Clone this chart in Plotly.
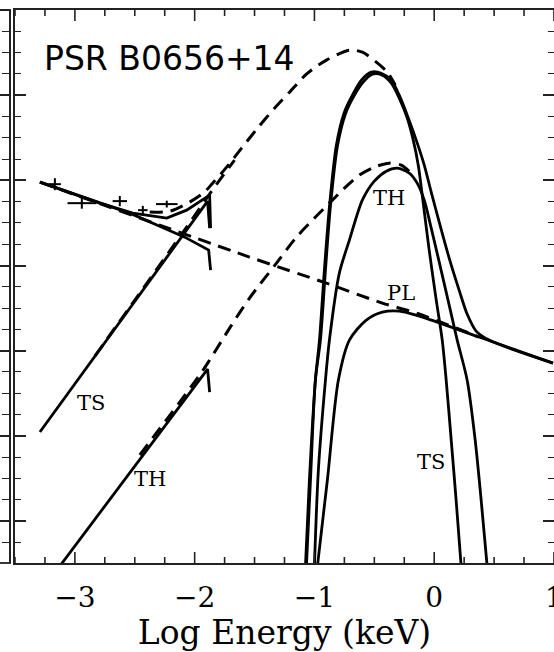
import numpy as np
import plotly.graph_objects as go

# ---- observed optical/UV fluxes (log E [keV], log F_nu) with filter widths / errors
obs_logE = [-3.167, -2.942, -2.625, -2.433, -2.233]
obs_logF = [3.955, 3.732, 3.756, 3.650, 3.721]
obs_dE = [0.05, 0.12, 0.06, 0.04, 0.09]
obs_dF = [0.07, 0.065, 0.06, 0.05, 0.04]

# ---- absorbed model, optical/UV branch (ends at the Lyman edge)
tot_lo_E = [-3.292, -2.792, -2.517, -2.233, -2.067, -1.875, -1.867]
tot_lo_F = [3.979, 3.732, 3.615, 3.556, 3.650, 3.826, 3.439]
pl_lo_E = [-3.292, -2.875, -2.542, -2.292, -2.083, -1.883, -1.867]
pl_lo_F = [3.979, 3.779, 3.615, 3.462, 3.333, 3.181, 2.946]
ts_lo_E = [-3.292, -2.108, -1.892, -1.875]
ts_lo_F = [1.045, 3.333, 3.756, 3.439]
th_lo_E = [-3.125, -1.958, -1.892, -1.875]
th_lo_F = [-0.528, 1.655, 1.784, 1.514]

# ---- absorbed model, X-ray branch
tot_hi_E = [-1.075, -1.042, -0.992, -0.958, -0.917, -0.875, -0.817, -0.750, -0.683, -0.608,
            -0.525, -0.442, -0.358, -0.292, -0.225, -0.150, -0.083, -0.025, 0.042, 0.125,
            0.208, 0.275, 0.350, 0.458, 0.992]
tot_hi_F = [-0.528, 0.481, 1.655, 2.124, 2.946, 3.685, 4.413, 4.800, 5.000, 5.176,
            5.270, 5.258, 5.176, 5.000, 4.765, 4.472, 4.178, 3.862, 3.509, 3.087,
            2.711, 2.430, 2.230, 2.124, 1.854]
ts_hi_E = [-1.067, -1.033, -0.992, -0.950, -0.908, -0.867, -0.808, -0.742, -0.675, -0.600,
           -0.517, -0.433, -0.358, -0.292, -0.225, -0.175, -0.133, -0.100, -0.042, 0.017,
           0.067, 0.100, 0.142, 0.183, 0.225]
ts_hi_F = [-0.528, 0.481, 1.655, 2.124, 2.946, 3.685, 4.401, 4.777, 4.977, 5.141,
           5.246, 5.235, 5.141, 4.965, 4.730, 4.472, 4.178, 3.826, 3.181, 2.594,
           2.124, 1.655, 0.951, 0.246, -0.528]
th_hi_E = [-1.000, -0.967, -0.908, -0.875, -0.792, -0.708, -0.600, -0.500, -0.400, -0.308,
           -0.208, -0.142, -0.083, -0.025, 0.042, 0.125, 0.192, 0.275, 0.342, 0.392, 0.442]
th_hi_F = [-0.528, 0.599, 1.655, 2.124, 2.911, 3.298, 3.768, 3.991, 4.108, 4.143,
           4.085, 3.967, 3.768, 3.439, 3.040, 2.535, 2.124, 1.655, 0.951, 0.246, -0.528]
pl_hi_E = [-0.975, -0.892, -0.800, -0.708, -0.567, -0.433, -0.292, -0.125, 0.375, 0.992]
pl_hi_F = [-0.528, 0.481, 1.655, 2.124, 2.359, 2.453, 2.465, 2.406, 2.160, 1.854]

# ---- unabsorbed model components
tot_un_E = [-2.375, -2.208, -2.042, -1.917, -1.850, -1.733, -1.608, -1.475, -1.333, -1.208,
            -1.067, -0.900, -0.708, -0.600, -0.483, -0.392, -0.325]
tot_un_F = [3.627, 3.638, 3.744, 3.862, 3.967, 4.155, 4.378, 4.613, 4.847, 5.035,
            5.246, 5.411, 5.528, 5.505, 5.387, 5.270, 5.117]
ts_un_E = [-2.833, -2.458, -2.067, -1.917, -1.792, -1.667]
ts_un_F = [1.937, 2.676, 3.451, 3.756, 4.002, 4.237]
th_un_E = [-2.458, -1.958, -1.875, -1.708, -1.542, -1.317, -1.150, -1.000, -0.875, -0.750,
           -0.625, -0.500, -0.375, -0.275, -0.192]
th_un_F = [0.775, 1.714, 1.890, 2.265, 2.617, 3.028, 3.333, 3.556, 3.732, 3.908,
           4.061, 4.155, 4.202, 4.178, 4.085]
pl_un_E = [-3.292, -1.542, -0.900, -0.433, -0.150, 0.375]
pl_un_F = [3.979, 3.099, 2.793, 2.559, 2.441, 2.160]

SOLID_W = 2.8
DASH_W = 3.0
DASH = "13px,8px"
INK = "black"

fig = go.Figure()


def solid(x, y, smooth=True):
    fig.add_trace(go.Scatter(
        x=x, y=y, mode="lines", showlegend=False, hoverinfo="skip",
        line=dict(color=INK, width=SOLID_W,
                  shape="spline" if smooth else "linear",
                  **({"smoothing": 0.8} if smooth else {}))))


def dashed(x, y):
    fig.add_trace(go.Scatter(
        x=x, y=y, mode="lines", showlegend=False, hoverinfo="skip",
        line=dict(color=INK, width=DASH_W, dash=DASH, shape="spline", smoothing=0.8)))


# unabsorbed components (dashed)
dashed(pl_un_E, pl_un_F)
dashed(ts_un_E, ts_un_F)
dashed(th_un_E, th_un_F)
dashed(tot_un_E, tot_un_F)

# absorbed model, optical/UV
solid(tot_lo_E, tot_lo_F, smooth=False)
solid(pl_lo_E, pl_lo_F, smooth=False)
solid(ts_lo_E, ts_lo_F, smooth=False)
solid(th_lo_E, th_lo_F, smooth=False)

# absorbed model, X-ray
solid(pl_hi_E, pl_hi_F)
solid(th_hi_E, th_hi_F)
solid(ts_hi_E, ts_hi_F)
solid(tot_hi_E, tot_hi_F)

# observed points
fig.add_trace(go.Scatter(
    x=obs_logE, y=obs_logF, mode="markers", showlegend=False, hoverinfo="skip",
    marker=dict(size=1, color=INK),
    error_x=dict(type="data", array=obs_dE, width=0, thickness=2, color=INK),
    error_y=dict(type="data", array=obs_dF, width=0, thickness=2, color=INK)))

# empty carrier for the neighbouring panel's zero-width subplot
fig.add_trace(go.Scatter(x=[None], y=[None], xaxis="x2", yaxis="y2",
                         showlegend=False, hoverinfo="skip"))

label_font = dict(family="DejaVu Serif", size=21, color=INK)
for txt, lx, ly in [("TH", -0.375, 3.791), ("PL", -0.275, 2.676), ("TS", -2.867, 1.385),
                    ("TH", -2.375, 0.493), ("TS", -0.025, 0.692)]:
    fig.add_annotation(x=lx, y=ly, text=txt, showarrow=False, font=label_font,
                       xanchor="center", yanchor="middle")

fig.add_annotation(x=-3.275, y=5.434, text="PSR B0656+14", showarrow=False,
                   font=dict(family="DejaVu Sans", size=33, color=INK),
                   xanchor="left", yanchor="middle")

AX = "#222"
X_RANGE = [-3.5, 1.0002]
Y_RANGE = [-0.493, 6.0]
X_DOMAIN = [4 / 543, 1]
PLOT_H = 652 - 10 - 89
fig.update_layout(
    width=554, height=652,
    margin=dict(l=11, r=0, t=10, b=89, autoexpand=False),
    paper_bgcolor="white", plot_bgcolor="rgba(0,0,0,0)",
    xaxis=dict(
        domain=X_DOMAIN, range=X_RANGE, automargin=False, anchor="y",
        tickmode="linear", tick0=0, dtick=1, ticks="",
        showline=True, linecolor=AX, linewidth=1.8, mirror=True,
        showgrid=False, zeroline=False,
        tickfont=dict(family="DejaVu Serif", size=28, color=INK),
        ticklabelstandoff=8, ticklabeloverflow="allow",
        title=dict(text="Log Energy (keV)", standoff=14,
                   font=dict(family="DejaVu Serif", size=33, color=INK)),
    ),
    yaxis=dict(
        range=Y_RANGE, dtick=1, tick0=0, automargin=False, anchor="x",
        ticks="inside", ticklen=11, tickwidth=1.6, tickcolor=AX,
        minor=dict(dtick=0.25, tick0=0, ticks="inside", ticklen=6, tickwidth=1.4, tickcolor=AX),
        showline=True, linecolor=AX, linewidth=1.8, mirror="allticks",
        showticklabels=False, showgrid=False, zeroline=False,
    ),
    xaxis2=dict(domain=[0, 0.001], visible=False, anchor="y2"),
    yaxis2=dict(
        range=Y_RANGE, dtick=1, tick0=0, anchor="x2", side="left", automargin=False,
        ticks="outside", ticklen=11, tickwidth=1.6, tickcolor=AX,
        minor=dict(dtick=0.25, tick0=0, ticks="outside", ticklen=7, tickwidth=1.4, tickcolor=AX),
        showline=True, linecolor=AX, linewidth=1.8,
        showticklabels=False, showgrid=False, zeroline=False,
    ),
)

# inward energy-axis tick marks on the bottom and top frame edges
for v in np.arange(-3.5, 1.0001, 0.25):
    major = abs(v - round(v)) < 1e-6
    frac = (11 if major else 6) / PLOT_H
    for base, sign in ((0.0, 1), (1.0, -1)):
        fig.add_shape(type="line", xref="x", yref="paper", x0=v, x1=v,
                      y0=base, y1=base + sign * frac,
                      line=dict(color=AX, width=1.6))

# short frame edges of the neighbouring panel
for yy in (0, 1):
    fig.add_shape(type="line", xref="paper", yref="paper", x0=-11 / 543, x1=0, y0=yy, y1=yy,
                  line=dict(color=AX, width=1.8))

fig.write_html("out.html")
